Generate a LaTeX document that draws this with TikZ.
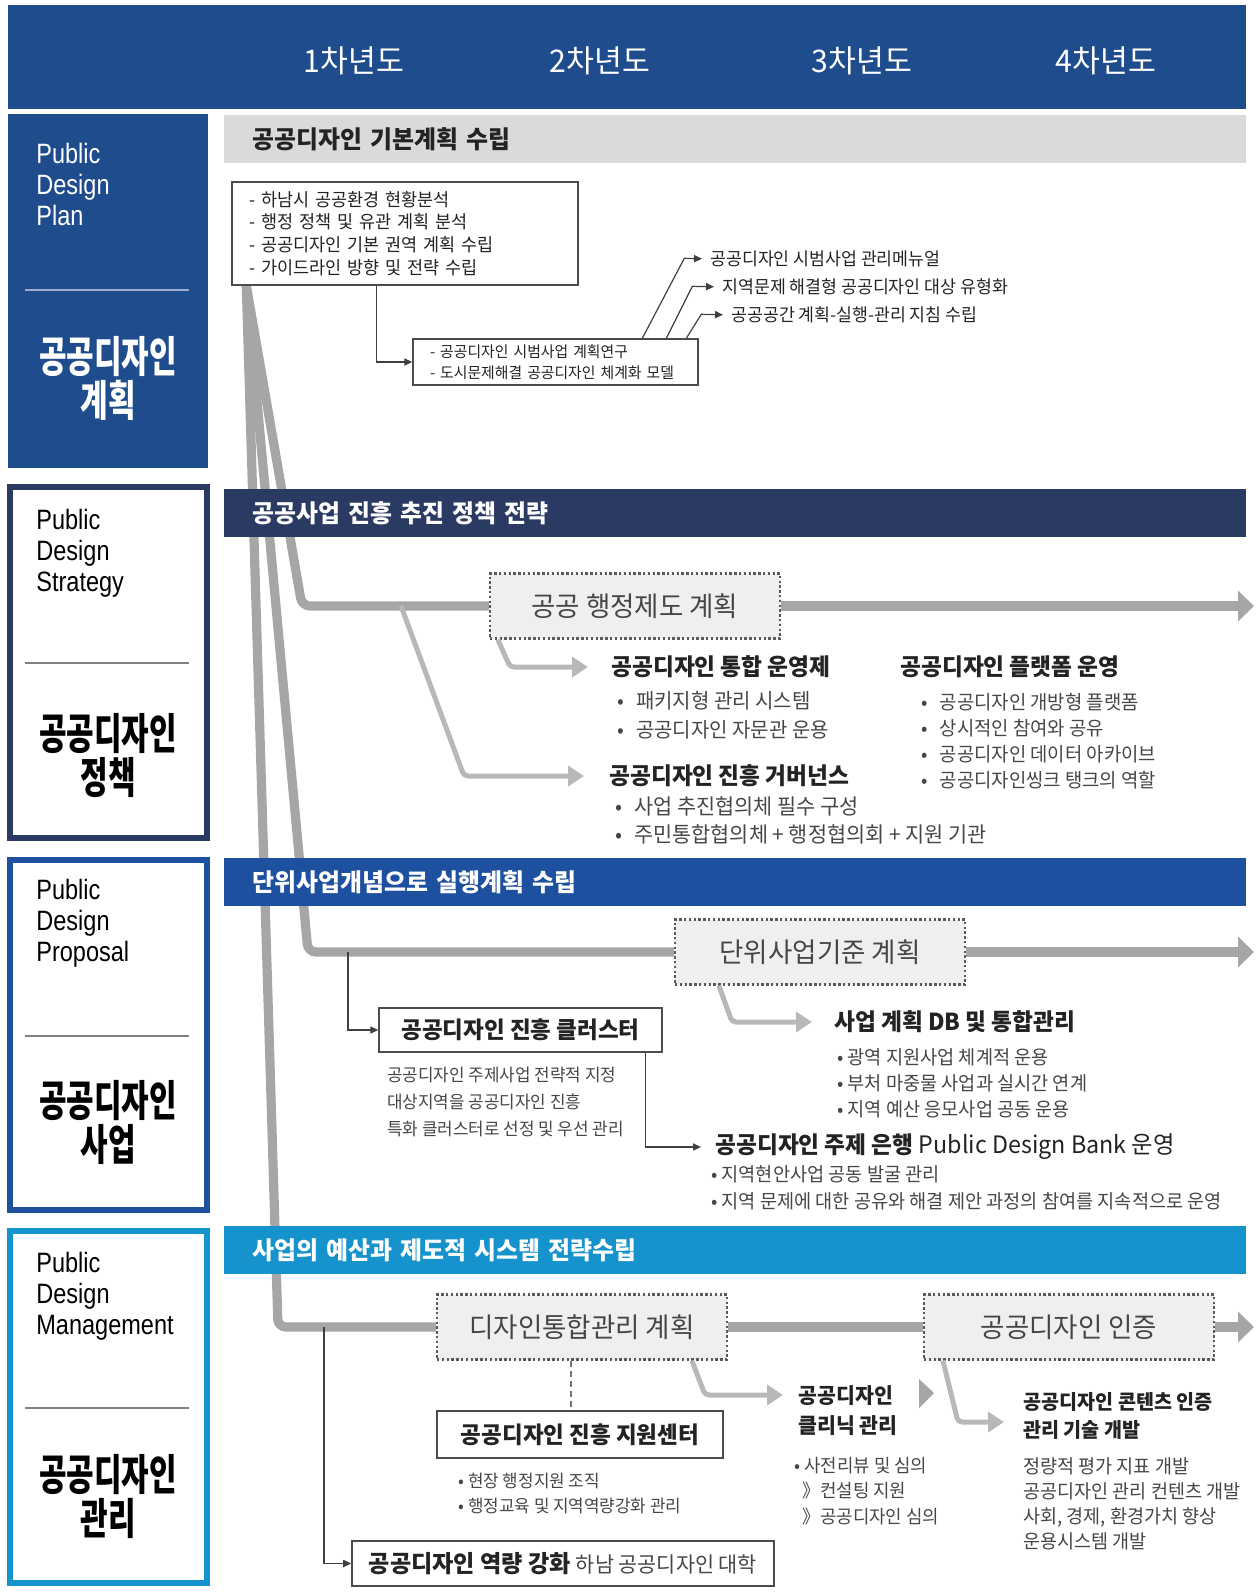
\documentclass[tikz,border=0pt]{standalone}
\usepackage{fontspec}
\setmainfont[FakeStretch=0.97]{Noto Sans CJK KR}
\newfontfamily\condfont[FakeStretch=0.7]{Noto Sans CJK KR}
\newfontfamily\latfont[FakeStretch=0.84]{Liberation Sans}
\usetikzlibrary{arrows.meta,positioning,calc}
\definecolor{hdrblue}{RGB}{30,76,140}
\definecolor{navy}{RGB}{43,58,98}
\definecolor{midblue}{RGB}{30,80,160}
\definecolor{skyblue}{RGB}{22,146,204}
\definecolor{bargray}{RGB}{218,218,218}
\definecolor{flowgray}{RGB}{166,166,166}
\definecolor{subgray}{RGB}{184,184,184}
\definecolor{boxfill}{RGB}{239,239,239}
\definecolor{txtdark}{RGB}{35,35,35}
\definecolor{txtgray}{RGB}{70,70,70}
\newcommand{\fs}[2]{\fontsize{#1}{#2}\selectfont}
\pgfdeclarelayer{bg}
\pgfsetlayers{bg,main}

\begin{document}
\begin{tikzpicture}[x=0.5pt, y=-0.5pt,
  year/.style={font=\fs{15.6}{18}, text=white, inner sep=0},
  side/.style={rectangle, minimum width=98.5pt, inner sep=0},
  sidelat/.style={font=\latfont\fs{14}{15.5}, align=left, anchor=west, inner sep=0},
  sidekor/.style={font=\condfont\bfseries\fs{21.4}{22}, align=center, inner sep=0},
  sline/.style={line width=1pt},
  bar/.style={rectangle, anchor=north west, minimum height=24pt, text width=483pt,
              inner xsep=14pt, inner ysep=0, align=left, font=\bfseries\fs{12.3}{15}},
  stage/.style={rectangle, draw=black!65, line width=1.1pt, dash pattern=on 1.2pt off 1.2pt,
                fill=boxfill, minimum width=145pt, minimum height=32.5pt,
                font=\fs{13.65}{16}, text=txtgray},
  note/.style={rectangle, draw=black!70, fill=white, line width=0.7pt, inner xsep=8.5pt,
               align=left, text=txtdark},
  hd/.style={font=\bfseries\fs{11.7}{15}, anchor=west, inner sep=0, text=txtdark, align=left},
  lst/.style={anchor=west, inner sep=0, align=left, text=txtgray},
  itemtxt/.style={anchor=west, inner sep=0, text=txtdark},
  link/.style={draw=black!75, line width=0.6pt, -{Triangle[length=4pt,width=3.6pt]}},
  flow/.style={draw=flowgray, line width=4.6pt, rounded corners=4pt},
  flowarr/.style={draw=flowgray, line width=5pt, -{Triangle[length=8pt,width=15pt]}},
  branch/.style={draw=subgray, line width=2.5pt, rounded corners=2pt,
                 -{Triangle[length=8pt,width=10pt]}},
  dashlink/.style={draw=black!55, line width=1pt, dash pattern=on 3pt off 2pt}
]
\useasboundingbox (0,0) rectangle (1256,1596);

% Header with years
\node[rectangle, fill=hdrblue, minimum width=619pt, minimum height=52pt, anchor=north west,
      inner sep=0] (hdr) at (8,5) {};
\node[year] (yr1) at (354,61) {1차년도};
\node[year] (yr2) at (600,61) {2차년도};
\node[year] (yr3) at (862,61) {3차년도};
\node[year] (yr4) at (1106,61) {4차년도};

% Side column
\node[side, fill=hdrblue, minimum width=100pt, minimum height=177pt] (sb1) at (108,291) {};
\node[side, draw=navy, line width=3pt, minimum height=175.5pt] (sb2) at (108.5,662.5) {};
\node[side, draw=midblue, line width=3pt, minimum height=175pt] (sb3) at (108.5,1035) {};
\node[side, draw=skyblue, line width=3pt, minimum height=176pt] (sb4) at (108.5,1407) {};

\node[sidelat, text=white] (sl1) at (36,184) {Public\\Design\\Plan};
\node[sidelat] (sl2) at (36,553) {Public\\Design\\Strategy};
\node[sidelat] (sl3) at (36,923) {Public\\Design\\Proposal};
\node[sidelat] (sl4) at (36,1296) {Public\\Design\\Management};

\draw[sline, draw=white!55!hdrblue] (25,290) -- (189,290);
\draw[sline, draw=black!50] (25,663) -- (189,663);
\draw[sline, draw=black!50] (25,1036) -- (189,1036);
\draw[sline, draw=black!50] (25,1408) -- (189,1408);

\node[sidekor, text=white] (sk1) at (108,378) {공공디자인\\계획};
\node[sidekor] (sk2) at (108,756) {공공디자인\\정책};
\node[sidekor] (sk3) at (108,1122) {공공디자인\\사업};
\node[sidekor] (sk4) at (108,1496) {공공디자인\\관리};

% Section bars
\node[bar, fill=bargray, text=txtdark] (bar1) at (224,115) {공공디자인 기본계획 수립};
\node[bar, fill=navy, text=white] (bar2) at (224,489) {공공사업 진흥 추진 정책 전략};
\node[bar, fill=midblue, text=white] (bar3) at (224,858) {단위사업개념으로 실행계획 수립};
\node[bar, fill=skyblue, text=white] (bar4) at (224,1226) {사업의 예산과 제도적 시스템 전략수립};

% Plan
\node[note, minimum width=173pt, minimum height=51.5pt, text width=156pt, font=\fs{9}{11.4}]
  (plan) at (405,233.5) {- 하남시 공공환경 현황분석\\- 행정 정책 및 유관 계획 분석\\- 공공디자인 기본 권역 계획 수립\\- 가이드라인 방향 및 전략 수립};
\node[note, minimum width=142.5pt, minimum height=23pt, text width=125.5pt, inner ysep=1pt,
      font=\fs{7.65}{10.5}]
  (pilot) at (555.5,362) {- 공공디자인 시범사업 계획연구\\- 도시문제해결 공공디자인 체계화 모델};

\node[itemtxt, font=\fs{8.9}{11}] (man) at (710,259) {공공디자인 시범사업 관리메뉴얼};
\node[itemtxt, font=\fs{8.9}{11}] (typ) at (722,287) {지역문제 해결형 공공디자인 대상 유형화};
\node[itemtxt, font=\fs{8.9}{11}] (gde) at (731,315) {공공공간 계획-실행-관리 지침 수립};

\draw[link] ([xshift=72.5pt]plan.south west) |- (pilot.west);
\draw[link, shorten >=4pt] ([xshift=115pt]pilot.north west) -- ++(42,-80) -- (man.west);
\draw[link, shorten >=4pt] ([xshift=127pt]pilot.north west) -- ++(26,-52) -- (typ.west);
\draw[link, shorten >=4pt] ([xshift=137pt]pilot.north west) -- ++(15,-24) -- (gde.west);

% Stage boxes
\node[stage] (admin) at (635,606) {공공 행정제도 계획};
\node[stage] (unit) at (820,952) {단위사업기준 계획};
\node[stage] (integ) at (582,1327) {디자인통합관리 계획};
\node[stage] (cert) at (1069,1327) {공공디자인 인증};

% Strategy
\node[hd] (hdUni) at (611,667) {공공디자인 통합 운영제};
\node[lst, font=\fs{10.3}{14.5}] (lsUni) at (617,715.5)
  {•\hspace{6pt}패키지형 관리 시스템\\•\hspace{6pt}공공디자인 자문관 운용};
\node[hd] (hdPlat) at (900,667) {공공디자인 플랫폼 운영};
\node[lst, font=\fs{9.7}{13}] (lsPlat) at (921,741)
  {•\hspace{6pt}공공디자인 개방형 플랫폼\\•\hspace{6pt}상시적인 참여와 공유\\•\hspace{6pt}공공디자인 데이터 아카이브\\•\hspace{6pt}공공디자인씽크 탱크의 역할};
\node[hd] (hdGov) at (609,776) {공공디자인 진흥 거버넌스};
\node[lst, font=\fs{10.7}{14}] (lsGov) at (615,820)
  {•\hspace{6pt}사업 추진협의체 필수 구성\\•\hspace{6pt}주민통합협의체 + 행정협의회 + 지원 기관};

% Proposal
\node[note, minimum width=141.5pt, minimum height=22pt, align=center, font=\bfseries\fs{11.6}{14}]
  (clus) at (520.5,1030) {공공디자인 진흥 클러스터};
\node[lst, font=\fs{8.7}{13.7}] (clusTxt) at (387,1102)
  {공공디자인 주제사업 전략적 지정\\대상지역을 공공디자인 진흥\\특화 클러스터로 선정 및 우선 관리};
\node[hd] (hdDB) at (834,1022) {사업 계획 DB 및 통합관리};
\node[lst, font=\fs{9.6}{13}] (lsDB) at (837,1083)
  {•\hspace{2pt}광역 지원사업 체계적 운용\\•\hspace{2pt}부처 마중물 사업과 실시간 연계\\•\hspace{2pt}지역 예산 응모사업 공동 운용};
\node[hd] (hdBank) at (715,1147) {공공디자인 주제 은행 {\mdseries\fs{12}{15}Public Design Bank 운영}};
\node[lst, font=\fs{9.6}{13.5}] (lsBank) at (711,1187.5)
  {•\hspace{2pt}지역현안사업 공동 발굴 관리\\•\hspace{2pt}지역 문제에 대한 공유와 해결 제안 과정의 참여를 지속적으로 운영};

% Management
\node[note, minimum width=143pt, minimum height=23.5pt, align=center, font=\bfseries\fs{11.6}{14}]
  (ctr) at (580,1434.5) {공공디자인 진흥 지원센터};
\node[lst, font=\fs{8.7}{12.5}] (lsCtr) at (458,1493.5)
  {•\hspace{2pt}현장 행정지원 조직\\•\hspace{2pt}행정교육 및 지역역량강화 관리};
\node[note, minimum width=211pt, minimum height=22.5pt, align=center, font=\bfseries\fs{11.9}{14}]
  (cap) at (563,1563.5) {공공디자인 역량 강화 {\mdseries\fs{10.7}{14}\color{txtgray}하남 공공디자인 대학}};
\node[hd, font=\bfseries\fs{10.6}{15}] (hdCli) at (798,1411) {공공디자인\\클리닉 관리};
\node[lst, font=\fs{9.2}{12.7}] (lsCli) at (794,1491)
  {•\hspace{2pt}사전리뷰 및 심의\\\hspace*{4pt}》컨설팅 지원\\\hspace*{4pt}》공공디자인 심의};
\node[hd, font=\bfseries\fs{10.1}{14}] (hdCert) at (1023,1416) {공공디자인 콘텐츠 인증\\관리 기술 개발};
\node[lst, font=\fs{9.55}{12.5}] (lsCert) at (1023,1503.5)
  {정량적 평가 지표 개발\\공공디자인 관리 컨텐츠 개발\\사회, 경제, 환경가치 향상\\운용시스템 개발};
\fill[flowgray] (919,1379) -- (934,1393) -- (919,1408) -- cycle;

% Main flow lines
\coordinate (fun) at ([xshift=7.5pt]plan.south west);
\coordinate (endA) at (1254,0 |- admin.east);
\coordinate (endU) at (1254,0 |- unit.east);
\coordinate (endC) at (1254,0 |- cert.east);
\begin{pgfonlayer}{bg}
\draw[flow] (fun) -- (302,0 |- admin.west) -- (admin.west);
\draw[flow] (fun) -- (308,0 |- unit.west) -- (unit.west);
\draw[flow] (fun) -- (278,0 |- integ.west) -- (integ.west);
\draw[flow] (integ.east) -- (cert.west);
\draw[flowarr] (admin.east) -- (endA);
\draw[flowarr] (unit.east) -- (endU);
\draw[flowarr] (cert.east) -- (endC);
\end{pgfonlayer}

% Branch arrows
\coordinate (brG) at (401,0 |- admin.west);
\coordinate (cliIn) at ([yshift=8pt]hdCli.west);
\coordinate (certIn) at ([yshift=-3pt]hdCert.west);
\draw[branch, shorten >=11.5pt] ([xshift=4.5pt]admin.south west) -- (510,0 |- hdUni.west) -- (hdUni.west);
\draw[branch, shorten >=12.5pt] (brG) -- (464,0 |- hdGov.west) -- (hdGov.west);
\draw[branch, shorten >=11pt] ([xshift=22.5pt]unit.south west) -- (732,0 |- hdDB.west) -- (hdDB.west);
\draw[branch, shorten >=7.5pt] ([xshift=128pt]integ.south west) -- (705,0 |- cliIn) -- (cliIn);
\draw[branch, shorten >=9.5pt] ([xshift=10pt]cert.south west) -- (958,0 |- certIn) -- (certIn);

% Thin links
\coordinate (brC) at (348,0 |- unit.west);
\coordinate (brK) at (324,0 |- integ.west);
\draw[link] (brC) |- (clus.west);
\draw[link, shorten >=7pt] ([xshift=-8.5pt]clus.south east) |- (hdBank.west);
\draw[link] (brK) |- (cap.west);
\draw[dashlink] ([xshift=-5.5pt]integ.south) -- ([xshift=-5.5pt]integ.south |- ctr.north);
\end{tikzpicture}
\end{document}
